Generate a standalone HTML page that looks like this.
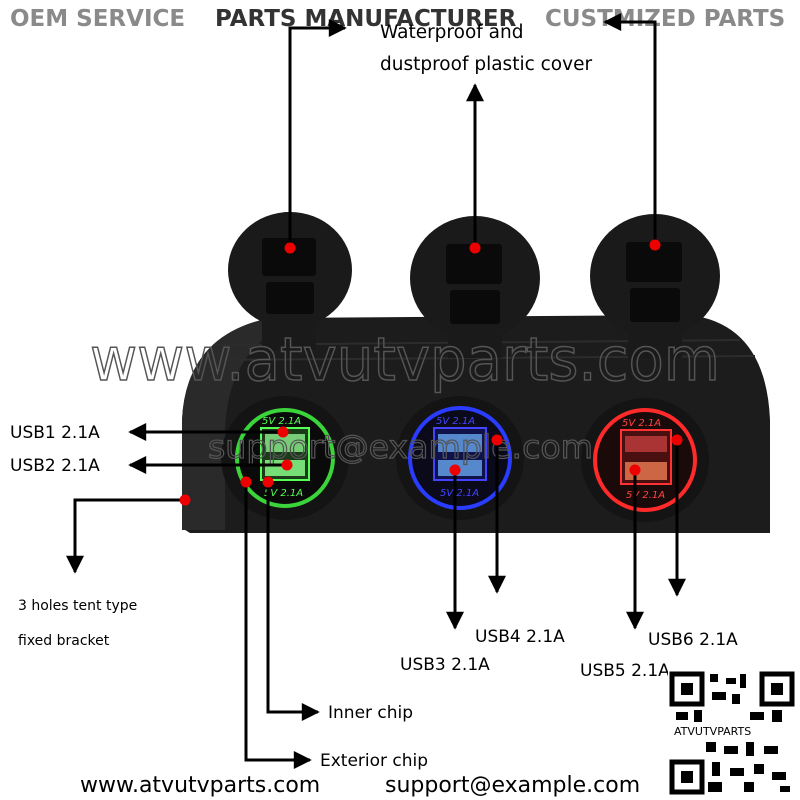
<!DOCTYPE html>
<html><head><meta charset="utf-8"><style>
html,body{margin:0;padding:0;background:#fff;width:800px;height:800px;overflow:hidden}
svg{display:block}
text{font-family:"DejaVu Sans","Liberation Sans",sans-serif}
</style></head><body>
<svg width="800" height="800" viewBox="0 0 800 800" xmlns="http://www.w3.org/2000/svg">
<defs>
<marker id="b" viewBox="0 0 10 10" markerWidth="22" markerHeight="18" refX="9" refY="5" orient="auto" markerUnits="userSpaceOnUse"><path d="M0,0 L10,5 L0,10 Z" fill="#000"/></marker>
</defs>
<rect width="800" height="800" fill="#fff"/>
<text x="10" y="26" font-family="Liberation Sans" font-weight="bold" font-size="23" fill="#8a8a8a">OEM SERVICE</text>
<text x="215" y="26" font-family="Liberation Sans" font-weight="bold" font-size="23" fill="#333">PARTS MANUFACTURER</text>
<text x="545" y="26" font-family="Liberation Sans" font-weight="bold" font-size="23" fill="#8a8a8a">CUSTMIZED PARTS</text>
<text x="380" y="38" font-size="18.5" fill="#000">Waterproof and</text>
<text x="380" y="70" font-size="18.5" fill="#000">dustproof plastic cover</text>
<!-- housing -->
<path d="M182,528 L182,420 Q186,335 270,318 L690,315 Q766,325 770,420 L770,533 L190,533 Z" fill="#1c1c1c"/>
<path d="M182,420 Q186,335 270,318 L300,318 Q228,345 225,430 L225,530 L182,530 Z" fill="#2a2a2a"/>
<g stroke="#2c2c2c" stroke-width="2" fill="none">
<path d="M215,345 L740,340"/><path d="M200,360 L755,356"/>
</g>
<!-- caps -->
<g fill="#1a1a1a">
<rect x="262" y="310" width="54" height="40"/>
<rect x="448" y="318" width="54" height="40"/>
<rect x="628" y="318" width="54" height="40"/>
<path d="M268,236 Q268,212 288,212 Q308,212 308,236 Z"/>
<ellipse cx="290" cy="270" rx="62" ry="58"/>
<path d="M454,244 Q454,218 474,218 Q494,218 494,244 Z"/>
<ellipse cx="475" cy="278" rx="65" ry="62"/>
<path d="M634,244 Q634,218 654,218 Q674,218 674,244 Z"/>
<ellipse cx="655" cy="276" rx="65" ry="62"/>
</g>
<g fill="#0a0a0a">
<rect x="262" y="238" width="54" height="38" rx="3"/><rect x="266" y="282" width="48" height="32" rx="3"/>
<rect x="446" y="244" width="56" height="40" rx="3"/><rect x="450" y="290" width="50" height="34" rx="3"/>
<rect x="626" y="242" width="56" height="40" rx="3"/><rect x="630" y="288" width="50" height="34" rx="3"/>
</g>
<!-- sockets -->
<g>
<ellipse cx="285" cy="458" rx="64" ry="62" fill="#141414"/><circle cx="285" cy="458" r="48" fill="#0a0a0a" stroke="#3bd43b" stroke-width="4"/>
<rect x="261" y="428" width="48" height="52" fill="#1a3a1a" stroke="#5f5" stroke-width="2"/>
<rect x="265" y="434" width="40" height="18" fill="#7c7"/><rect x="265" y="460" width="40" height="16" fill="#7d7"/>
<text x="262" y="424" font-size="10" font-style="italic" fill="#5f5">5V 2.1A</text><text x="264" y="496" font-size="10" font-style="italic" fill="#5f5">5V 2.1A</text>
<ellipse cx="460" cy="458" rx="64" ry="62" fill="#141414"/><circle cx="460" cy="458" r="50" fill="#0a0a1a" stroke="#2a3cff" stroke-width="4"/>
<rect x="434" y="428" width="52" height="52" fill="#10124a" stroke="#44f" stroke-width="2"/>
<rect x="438" y="434" width="44" height="18" fill="#58c"/><rect x="438" y="460" width="44" height="16" fill="#58c"/>
<text x="436" y="424" font-size="10" font-style="italic" fill="#44f">5V 2.1A</text><text x="440" y="496" font-size="10" font-style="italic" fill="#44f">5V 2.1A</text>
<ellipse cx="645" cy="460" rx="64" ry="62" fill="#141414"/><circle cx="645" cy="460" r="50" fill="#1a0a0a" stroke="#ff2a2a" stroke-width="4"/>
<rect x="621" y="430" width="50" height="54" fill="#4a1010" stroke="#f33" stroke-width="2"/>
<rect x="625" y="436" width="42" height="16" fill="#a33"/><rect x="625" y="462" width="42" height="18" fill="#c64"/>
<text x="622" y="426" font-size="10" font-style="italic" fill="#f44">5V 2.1A</text><text x="626" y="498" font-size="10" font-style="italic" fill="#f44">5V 2.1A</text>
</g>
<text x="90" y="380" font-family="Liberation Sans" font-size="60" fill="none" stroke="#555" stroke-width="1.5" textLength="630" lengthAdjust="spacingAndGlyphs">www.atvutvparts.com</text>
<text x="208" y="458" font-family="Liberation Sans" font-size="32" fill="none" stroke="#555" stroke-width="1.2" textLength="385" lengthAdjust="spacingAndGlyphs">support@example.com</text>
<g stroke="#000" stroke-width="3" fill="none">
<polyline points="290,248 290,28 345,28" marker-end="url(#b)"/>
<polyline points="475,245 475,85" marker-end="url(#b)"/>
<polyline points="655,245 655,22 605,22" marker-end="url(#b)"/>
<polyline points="283,432 130,432" marker-end="url(#b)"/>
<polyline points="287,465 130,465" marker-end="url(#b)"/>
<polyline points="185,500 75,500 75,572" marker-end="url(#b)"/>
<polyline points="455,470 455,628" marker-end="url(#b)"/>
<polyline points="497,440 497,592" marker-end="url(#b)"/>
<polyline points="635,470 635,628" marker-end="url(#b)"/>
<polyline points="677,440 677,595" marker-end="url(#b)"/>
<polyline points="268,482 268,712 318,712" marker-end="url(#b)"/>
<polyline points="246,482 246,760 310,760" marker-end="url(#b)"/>
</g>
<g fill="#e00">
<circle cx="290" cy="248" r="5.5"/><circle cx="475" cy="248" r="5.5"/><circle cx="655" cy="245" r="5.5"/>
<circle cx="283" cy="432" r="5.5"/><circle cx="287" cy="465" r="5.5"/><circle cx="185" cy="500" r="5.5"/>
<circle cx="455" cy="470" r="5.5"/><circle cx="497" cy="440" r="5.5"/><circle cx="635" cy="470" r="5.5"/><circle cx="677" cy="440" r="5.5"/>
<circle cx="268" cy="482" r="5.5"/><circle cx="246" cy="482" r="5.5"/>
</g>
<g font-size="17" fill="#000">
<text x="10" y="438">USB1 2.1A</text>
<text x="10" y="471">USB2 2.1A</text>
<text x="18" y="610" font-size="14">3 holes tent type</text>
<text x="18" y="645" font-size="14">fixed bracket</text>
<text x="475" y="642">USB4 2.1A</text>
<text x="400" y="670">USB3 2.1A</text>
<text x="648" y="645">USB6 2.1A</text>
<text x="580" y="676">USB5 2.1A</text>
<text x="328" y="718">Inner chip</text>
<text x="320" y="766">Exterior chip</text>
</g>
<text x="80" y="792" font-family="Liberation Sans" font-size="22" fill="#000">www.atvutvparts.com</text>
<text x="385" y="792" font-family="Liberation Sans" font-size="22" fill="#000">support@example.com</text>
<g>
<rect x="668" y="670" width="128" height="126" fill="#fff"/>
<rect x="672" y="674" width="30" height="30" fill="none" stroke="#000" stroke-width="5"/><rect x="681" y="683" width="12" height="12" fill="#000"/>
<rect x="762" y="674" width="30" height="30" fill="none" stroke="#000" stroke-width="5"/><rect x="771" y="683" width="12" height="12" fill="#000"/>
<rect x="672" y="762" width="30" height="30" fill="none" stroke="#000" stroke-width="5"/><rect x="681" y="771" width="12" height="12" fill="#000"/>
<g fill="#000">
<rect x="710" y="674" width="8" height="8"/><rect x="726" y="678" width="10" height="6"/><rect x="740" y="674" width="6" height="14"/>
<rect x="712" y="692" width="14" height="8"/><rect x="732" y="694" width="8" height="10"/>
<rect x="676" y="712" width="12" height="8"/><rect x="694" y="710" width="8" height="12"/><rect x="750" y="712" width="14" height="8"/><rect x="772" y="710" width="10" height="12"/>
<rect x="706" y="742" width="10" height="10"/><rect x="724" y="746" width="14" height="8"/><rect x="746" y="742" width="8" height="14"/><rect x="764" y="746" width="14" height="8"/>
<rect x="712" y="762" width="8" height="14"/><rect x="730" y="768" width="14" height="8"/><rect x="754" y="764" width="10" height="10"/><rect x="772" y="772" width="14" height="8"/>
<rect x="708" y="782" width="14" height="10"/><rect x="744" y="782" width="10" height="10"/><rect x="780" y="786" width="10" height="6"/>
</g>
<text x="674" y="735" font-family="Liberation Serif" font-size="11" fill="#000">ATVUTVPARTS</text>
</g>
</svg>
</body></html>
